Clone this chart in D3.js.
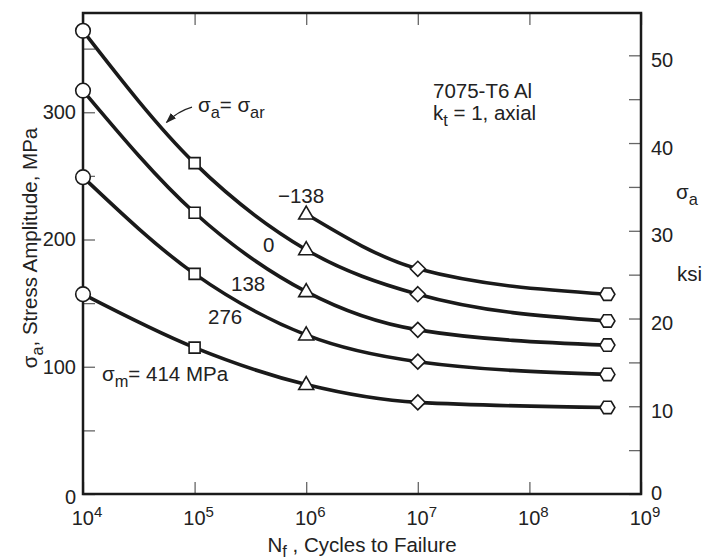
<!DOCTYPE html>
<html>
<head>
<meta charset="utf-8">
<script src="https://cdn.jsdelivr.net/npm/d3@7"></script>
<style>
  body { margin: 0; background: #fff; }
  svg text { font-family: "Liberation Sans", Arial, Helvetica, sans-serif; fill: #222; }
</style>
</head>
<body>
<script>
// cycles at which each marker type sits
var cycles = [1e4, 1e5, 1e6, 1e7, 5e8];
var markerKinds = ["circle", "square", "triangle", "diamond", "hexagon"];

// stress amplitude, MPa, per mean stress (null = no data)
var meanStress = [-138, 0, 138, 276, 414];
var amp_m138 = [null, null, 220, 177, 157];
var amp_0 = [364, 260, 192, 157, 136];
var amp_138 = [317, 221, 159, 129, 117];
var amp_276 = [249, 173, 125, 104, 94];
var amp_414 = [157, 115, 86, 72, 68];
var seriesVals = [amp_m138, amp_0, amp_138, amp_276, amp_414];

var xTicks = [1e4, 1e5, 1e6, 1e7, 1e8, 1e9];
var xExp = ["4", "5", "6", "7", "8", "9"];
var mpaTicks = [0, 50, 100, 150, 200, 250, 300, 350];
var ksiTicks = [0, 5, 10, 15, 20, 25, 30, 35, 40, 45, 50];

var W = 704, H = 560;
var pL = 83, pR = 641, pT = 13, pB = 494;
var MPA_PER_KSI = 6.895;
var FS = 20.5;

var svg = d3.select("body").append("svg")
    .attr("width", W)
    .attr("height", H);

var x = d3.scaleLog().domain([1e4, 1e9]).range([pL, pR]);
var y = d3.scaleLinear().domain([0, 378]).range([pB, pT]);
var yk = d3.scaleLinear().domain([0, 378 / MPA_PER_KSI]).range([pB, pT]);

// axes (ticks inward)
var tickCol = "#666";
var axL = svg.append("g").attr("transform", "translate(" + pL + ",0)")
    .call(d3.axisLeft(y).tickValues(mpaTicks).tickSizeInner(-12).tickSizeOuter(0).tickPadding(7)
      .tickFormat(function (d) { return d % 100 === 0 ? d : ""; }));
var axR = svg.append("g").attr("transform", "translate(" + pR + ",0)")
    .call(d3.axisRight(yk).tickValues(ksiTicks).tickSizeInner(-12).tickSizeOuter(0).tickPadding(10)
      .tickFormat(function (d) { return d % 10 === 0 ? d : ""; }));
var axB = svg.append("g").attr("transform", "translate(0," + pB + ")")
    .call(d3.axisBottom(x).tickValues(xTicks).tickSizeInner(-12).tickSizeOuter(0).tickFormat(""));
var axT = svg.append("g").attr("transform", "translate(0," + pT + ")")
    .call(d3.axisTop(x).tickValues(xTicks).tickSizeInner(-12).tickSizeOuter(0).tickFormat(""));

[axL, axR, axB, axT].forEach(function (g) {
  g.select(".domain").remove();
  g.selectAll(".tick line").attr("stroke", tickCol).attr("stroke-width", 1.3);
  g.selectAll("text").attr("font-size", 20).attr("fill", "#222")
    .attr("font-family", "Liberation Sans, Arial, sans-serif");
});
axR.selectAll("text").attr("dy", "0.55em");
axR.select(".tick text").attr("dy", "0.25em");
axL.select(".tick text").attr("dy", "0.45em");

// x tick labels with superscripts
var xl = svg.append("g");
xTicks.forEach(function (t, i) {
  var tx = xl.append("text")
    .attr("x", x(t) + 4)
    .attr("y", 525)
    .attr("text-anchor", "middle")
    .attr("font-size", 20);
  tx.append("tspan").text("10");
  tx.append("tspan").attr("font-size", 15).attr("dy", -8).text(xExp[i]);
});

// frame
svg.append("rect")
    .attr("x", pL).attr("y", pT)
    .attr("width", pR - pL).attr("height", pB - pT)
    .attr("fill", "none").attr("stroke", "#1a1a1a").attr("stroke-width", 2.5);

// curves
var line = d3.line()
    .x(function (d) { return x(d.n); })
    .y(function (d) { return y(d.v); })
    .curve(d3.curveMonotoneX);

var series = seriesVals.map(function (vals, k) {
  return {
    sm: meanStress[k],
    pts: vals.map(function (v, i) { return { n: cycles[i], v: v, kind: markerKinds[i] }; })
      .filter(function (p) { return p.v !== null; })
  };
});

svg.append("g").selectAll("path")
  .data(series)
  .enter().append("path")
    .attr("d", function (s) { return line(s.pts); })
    .attr("fill", "none")
    .attr("stroke", "#1a1a1a")
    .attr("stroke-width", 3.6);

// markers
var shapes = {
  circle: "M7.3,0A7.3,7.3 0 1,1 -7.3,0A7.3,7.3 0 1,1 7.3,0Z",
  square: "M-5.5,-5.5H5.5V5.5H-5.5Z",
  triangle: "M0,-8L7.5,5H-7.5Z",
  diamond: "M0,-7.5L7.5,0L0,7.5L-7.5,0Z",
  hexagon: "M-7.5,0L-3.8,-6.2H3.8L7.5,0L3.8,6.2H-3.8Z"
};
var allPts = [];
series.forEach(function (s) { allPts = allPts.concat(s.pts); });
svg.append("g").selectAll("path")
  .data(allPts)
  .enter().append("path")
    .attr("transform", function (p) { return "translate(" + x(p.n) + "," + y(p.v) + ")"; })
    .attr("d", function (p) { return shapes[p.kind]; })
    .attr("fill", "#fff")
    .attr("stroke", "#1a1a1a")
    .attr("stroke-width", 1.6);

// helper for text with subscripts: parts = [[text, isSub], ...]
function richText(g, px, py, parts, size, anchor, drop) {
  drop = drop || 6;
  var t = g.append("text").attr("x", px).attr("y", py)
    .attr("font-size", size).attr("text-anchor", anchor || "start");
  var sub = false;
  parts.forEach(function (p) {
    var ts = t.append("tspan").text(p[0]);
    if (p[1]) { ts.attr("font-size", size * 0.8); if (!sub) ts.attr("dy", drop); sub = true; }
    else if (sub) { ts.attr("dy", -drop); sub = false; }
  });
  return t;
}

var lab = svg.append("g");

// curve labels (mean stress, MPa)
richText(lab, 198, 112, [["σ", false], ["a", true], ["= σ", false], ["ar", true]], FS);
richText(lab, 278, 203, [["−138", false]], FS);
richText(lab, 263, 252, [["0", false]], FS);
richText(lab, 231, 291, [["138", false]], FS);
richText(lab, 208, 324, [["276", false]], FS);
richText(lab, 102, 381, [["σ", false], ["m", true], ["= 414 MPa", false]], FS);

// arrow to the sigma_ar curve
svg.append("defs").append("marker")
    .attr("id", "ah").attr("viewBox", "0 0 10 10")
    .attr("refX", 9).attr("refY", 5)
    .attr("markerWidth", 9).attr("markerHeight", 9)
    .attr("orient", "auto")
  .append("path").attr("d", "M0,1.5L10,5L0,8.5Z").attr("fill", "#222");
var a0 = [192, y(304)], a1 = [x(5.6e4), y(292)];
svg.append("path")
    .attr("d", "M" + a0 + "Q" + [a0[0] - 14, a0[1] + 4] + " " + a1)
    .attr("fill", "none").attr("stroke", "#222").attr("stroke-width", 1.2)
    .attr("marker-end", "url(#ah)");

// material note
lab.append("text").attr("x", 433).attr("y", 98).attr("font-size", FS).text("7075-T6 Al");
richText(lab, 433, 120, [["k", false], ["t", true], [" = 1, axial", false]], FS);

// axis titles
richText(lab, 676, 199, [["σ", false], ["a", true]], FS);
lab.append("text").attr("x", 677).attr("y", 281).attr("font-size", FS).text("ksi");

var yt = richText(lab, 0, 0, [["σ", false], ["a", true], [", Stress Amplitude, MPa", false]], FS, "middle");
yt.attr("transform", "translate(37,248) rotate(-90)");

richText(lab, 362, 552, [["N", false], ["f", true], [" , Cycles to Failure", false]], FS, "middle", 5);
</script>
</body>
</html>
